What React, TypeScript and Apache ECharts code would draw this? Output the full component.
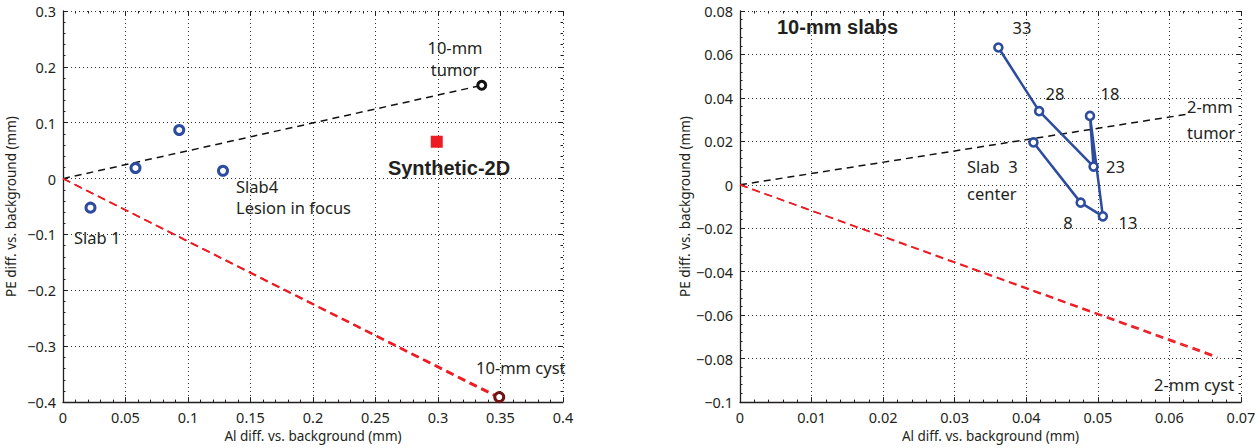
import React, { useEffect, useRef } from "react";
import * as echarts from "echarts";

// ---- Left panel data (10-mm lesions) ----
const slabAl = [0.022, 0.058, 0.093, 0.128];
const slabPe = [-0.052, 0.019, 0.087, 0.014];
const tumor10 = [0.335, 0.167];
const cyst10 = [0.349, -0.391];
const synth2D = [0.299, 0.066];
const cyst10Lines = [
  [0.346, -0.387],
  [0.348, -0.391],
  [0.35, -0.395],
];

// ---- Right panel data (10-mm slabs, 2-mm lesions) ----
const slabIds = [3, 8, 13, 18, 23, 28, 33];
const slabAl2 = [0.041, 0.0476, 0.0507, 0.0489, 0.0494, 0.0418, 0.0361];
const slabPe2 = [0.0195, -0.0082, -0.0145, 0.0317, 0.0084, 0.0339, 0.0632];
const tumor2End = [0.0625, 0.0325];
const cyst2Lines = [
  [0.0667, -0.0790],
  [0.0667, -0.0797],
];

// ---- Axis ranges / ticks ----
const leftX = { min: 0, max: 0.4, interval: 0.05 };
const leftY = { min: -0.4, max: 0.3, interval: 0.1 };
const rightX = { min: 0, max: 0.07, interval: 0.01 };
const rightY = { min: -0.1, max: 0.08, interval: 0.02 };

const FONT = "'Noto Sans', 'DejaVu Sans', sans-serif";
const BOLD = "'Liberation Sans', Arial, sans-serif";
const INK = "#231f20";
const BLUE = "#2d4c9f";
const RED = "#ed1c24";

const fmt = (v: number) => {
  if (Math.abs(v) < 1e-12) return "0";
  return String(+v.toFixed(4)).replace("-", "\u2212");
};

function valueAxis(r: any, gridIndex: number, isX: boolean) {
  return {
    type: "value",
    gridIndex,
    min: r.min,
    max: r.max,
    interval: r.interval,
    position: isX ? "bottom" : "left",
    name: isX ? "Al diff. vs. background (mm)" : "PE diff. vs. background (mm)",
    nameLocation: "middle",
    nameGap: isX ? 25 : 45,
    nameTextStyle: { fontFamily: FONT, fontSize: 13.5, color: INK },
    axisLine: { show: true, onZero: false, lineStyle: { color: INK, width: 1.3 } },
    axisTick: { show: true, inside: true, length: 5, lineStyle: { color: INK } },
    minorTick: { show: true, splitNumber: 5, length: 2.5, lineStyle: { color: INK } },
    axisLabel: {
      fontFamily: FONT,
      fontSize: 14.5,
      color: INK,
      margin: 7,
      formatter: fmt,
    },
    splitLine: { show: true, lineStyle: { color: "#333", type: [1, 3], width: 1 } },
  };
}

function mirrorAxis(r: any, gridIndex: number, isX: boolean) {
  return {
    type: "value",
    gridIndex,
    min: r.min,
    max: r.max,
    interval: r.interval,
    position: isX ? "top" : "right",
    axisLine: { show: false, onZero: false },
    axisTick: { show: true, inside: true, length: 5, lineStyle: { color: INK } },
    minorTick: { show: true, splitNumber: 5, length: 2.5, lineStyle: { color: INK } },
    axisLabel: { show: false },
    splitLine: { show: false },
  };
}

function line(points: number[][], color: string, idx: number, dash: number[], width = 1.5) {
  return {
    type: "line",
    xAxisIndex: idx,
    yAxisIndex: idx,
    data: points,
    symbol: "none",
    silent: true,
    lineStyle: { color, width, type: dash },
  };
}

const ring = (c: string, w = 3) => ({ color: "#fff", borderColor: c, borderWidth: w, opacity: 1 });

export default function App() {
  const ref = useRef<HTMLDivElement>(null);
  useEffect(() => {
    if (!ref.current) return;
    const chart = echarts.init(ref.current, undefined, { renderer: "svg" });

    const txt = (text: string, x: number, y: number, opts: any = {}) => ({
      type: "text",
      x,
      y,
      z: 100,
      style: {
        text,
        fill: INK,
        fontFamily: FONT,
        fontSize: 16.5,
        align: "left",
        verticalAlign: "middle",
        ...opts,
      },
    });

    const scatterBase = { type: "scatter", xAxisIndex: 0, yAxisIndex: 0, z: 10 };

    const option: any = {
      animation: false,
      backgroundColor: "#fff",
      grid: [
        { left: 63, top: 11, width: 500, height: 394 },
        { left: 740, top: 11, width: 501, height: 394 },
      ],
      xAxis: [
        valueAxis(leftX, 0, true),
        valueAxis(rightX, 1, true),
        mirrorAxis(leftX, 0, true),
        mirrorAxis(rightX, 1, true),
      ],
      yAxis: [
        valueAxis(leftY, 0, false),
        valueAxis(rightY, 1, false),
        mirrorAxis(leftY, 0, false),
        mirrorAxis(rightY, 1, false),
      ],
      series: [
        // Left panel
        line([[0, 0], tumor10], "#111", 0, [7, 5]),
        ...cyst10Lines.map((p) => line([[0, 0], p], RED, 0, [8, 5], 1.4)),
        {
          ...scatterBase,
          data: slabAl.map((a, i) => [a, slabPe[i]]),
          symbol: "circle",
          symbolSize: 9,
          itemStyle: ring(BLUE, 3),
        },
        {
          ...scatterBase,
          data: [tumor10],
          symbol: "circle",
          symbolSize: 8,
          itemStyle: ring("#111", 3),
        },
        {
          ...scatterBase,
          data: [cyst10],
          symbol: "circle",
          symbolSize: 9,
          itemStyle: ring("#6e1414", 3),
        },
        {
          ...scatterBase,
          data: [synth2D],
          symbol: "rect",
          symbolSize: 12,
          itemStyle: { color: RED, opacity: 1 },
        },
        // Right panel
        line([[0, 0], tumor2End], "#111", 1, [7, 5]),
        ...cyst2Lines.map((p) => line([[0, 0], p], RED, 1, [8, 5], 1.5)),
        {
          type: "line",
          xAxisIndex: 1,
          yAxisIndex: 1,
          data: slabIds.map((id, i) => ({ name: String(id), value: [slabAl2[i], slabPe2[i]] })),
          symbol: "circle",
          symbolSize: 8,
          lineStyle: { color: BLUE, width: 2.5 },
          itemStyle: ring(BLUE, 2.6),
          z: 10,
        },
      ],
      graphic: [
        // Left annotations
        txt("10-mm", 455, 47, { align: "center" }),
        txt("tumor", 455, 69, { align: "center" }),
        txt("Synthetic-2D", 449, 168, { align: "center", fontFamily: BOLD, fontWeight: "bold", fontSize: 20 }),
        txt("Slab4", 236, 186),
        txt("Lesion in focus", 236, 207),
        txt("Slab 1", 74, 237),
        txt("10-mm cyst", 476, 367),
        // Right annotations
        txt("10-mm slabs", 777, 27, { fontFamily: BOLD, fontWeight: "bold", fontSize: 20 }),
        txt("33", 1022, 27, { align: "center" }),
        txt("28", 1055, 93, { align: "center" }),
        txt("18", 1110, 93, { align: "center" }),
        txt("2-mm", 1187, 106),
        txt("tumor", 1187, 132),
        txt("23", 1106, 166),
        txt("Slab  3", 967, 166),
        txt("center", 967, 193),
        txt("8", 1068, 222, { align: "center" }),
        txt("13", 1128, 222, { align: "center" }),
        txt("2-mm cyst", 1154, 384),
      ],
    };
    chart.setOption(option);
    return () => chart.dispose();
  }, []);
  return (
    <div
      ref={ref}
      style={{ position: "fixed", left: 0, top: 0, width: 1260, height: 448, background: "#fff" }}
    />
  );
}
